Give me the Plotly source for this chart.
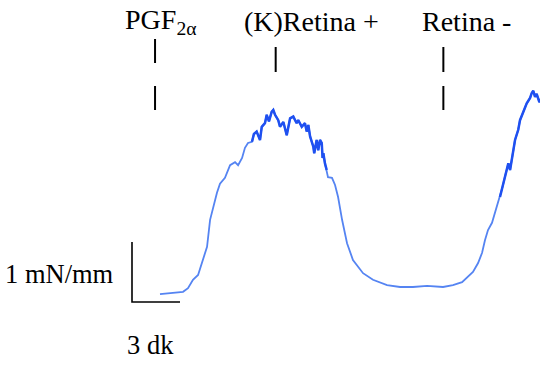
import plotly.graph_objects as go

# Isometric tension recording: time in minutes (dk), tension in mN/mm
time_min = [1.75, 2.38, 3.19, 3.50, 3.81, 4.13, 4.44, 4.69, 4.88, 5.06, 5.31, 5.50,
            5.81, 6.13, 6.44, 6.63, 6.88, 7.06, 7.25, 7.50, 7.62, 7.79, 8.00, 8.11,
            8.31, 8.42, 8.56, 8.73, 8.83, 8.94, 9.14, 9.25, 9.46, 9.67, 9.77, 9.88,
            10.08, 10.29, 10.39, 10.61, 10.81, 10.92, 11.02, 11.13, 11.33, 11.39, 11.54,
            11.64, 11.75, 11.86, 11.91, 11.96, 12.06, 12.17, 12.25, 12.50, 12.69, 12.88,
            13.13, 13.44, 13.81, 14.44, 15.06, 15.94, 16.75, 17.56, 18.44, 19.44, 20.06,
            20.63, 21.00, 21.31, 21.63, 21.88, 22.06, 22.25, 22.50, 22.69, 22.81, 23.00,
            23.13, 23.31, 23.52, 23.63, 23.73, 23.83, 23.94, 24.14, 24.25, 24.46, 24.67,
            24.88, 24.98, 25.08, 25.19, 25.29, 25.46, 25.56]
tension = [0.13, 0.15, 0.17, 0.23, 0.37, 0.45, 0.70, 0.92, 1.37, 1.58, 1.82, 1.97,
           2.07, 2.28, 2.33, 2.28, 2.40, 2.57, 2.65, 2.67, 2.80, 2.84, 2.70, 2.92,
           2.98, 3.12, 3.01, 3.17, 3.20, 3.12, 3.03, 2.92, 3.00, 2.78, 2.95, 3.06,
           3.09, 2.98, 3.03, 2.92, 2.98, 2.84, 2.95, 2.76, 2.59, 2.48, 2.70,
           2.53, 2.70, 2.65, 2.40, 2.48, 2.31, 2.20, 2.08, 2.07, 1.95, 1.75,
           1.37, 0.98, 0.70, 0.48, 0.37, 0.28, 0.25, 0.25, 0.27, 0.25, 0.28,
           0.33, 0.42, 0.50, 0.65, 0.82, 1.03, 1.20, 1.32, 1.48, 1.58, 1.75,
           1.89, 2.09, 2.31, 2.20, 2.37, 2.53, 2.70, 2.87, 3.03, 3.17, 3.31,
           3.40, 3.48, 3.52, 3.42, 3.47, 3.33, 3.38]

# Drug additions
event_labels = ["PGF<sub>2α</sub>", "(K)Retina +", "Retina -"]
event_times = [1.44, 8.98, 19.46]

# Scale bar sizes
scale_time = 3      # dk
scale_tension = 1   # mN/mm

# Pixel geometry of the 540x365 canvas (16 px per minute, 60 px per mN/mm)
PX_T, PX_Y = 16.0, 60.0
X0, Y0 = 132.0, 302.0


def dx(px):
    return (px - X0) / PX_T


def dy(py):
    return (Y0 - py) / PX_Y


fig = go.Figure()

# Main trace
fig.add_trace(go.Scatter(x=time_min, y=tension, mode="lines",
                         line=dict(color="#5584f2", width=1.8), hoverinfo="skip"))


# Noisy plateau / late rise drawn heavier
def segment(t0, t1):
    xs = [t for t in time_min if t0 <= t <= t1]
    ys = [v for t, v in zip(time_min, tension) if t0 <= t <= t1]
    return xs, ys


for a, b in [(7.5, 12.2), (22.9, 25.6)]:
    xs, ys = segment(a, b)
    fig.add_trace(go.Scatter(x=xs, y=ys, mode="lines",
                             line=dict(color="#1f50f0", width=2.5), hoverinfo="skip"))

# Scale bar
fig.add_trace(go.Scatter(x=[0, 0, scale_time], y=[scale_tension, 0, 0], mode="lines",
                         line=dict(color="black", width=1.6), hoverinfo="skip"))

# Event marker ticks
upper = [(dy(39), dy(63)), (dy(47), dy(72)), (dy(47), dy(72))]
lower = [True, False, True]
for t, (ya, yb), has_lower in zip(event_times, upper, lower):
    fig.add_shape(type="line", x0=t, x1=t, y0=ya, y1=yb, xref="x", yref="y",
                  line=dict(color="black", width=2))
    if has_lower:
        fig.add_shape(type="line", x0=t, x1=t, y0=dy(86), y1=dy(110), xref="x", yref="y",
                      line=dict(color="black", width=2))

serif = "Liberation Serif, Times New Roman, serif"
top_font = dict(family=serif, size=28, color="black")
font = dict(family=serif, size=26.5, color="black")
label_px = [160, 311, 466]
for lab, px in zip(event_labels, label_px):
    fig.add_annotation(x=dx(px), y=dy(21), text=lab, showarrow=False, xref="x", yref="y",
                       xanchor="center", yanchor="middle", font=top_font)

fig.add_annotation(x=dx(116), y=dy(274), text="1 mN/mm", showarrow=False, xref="x", yref="y",
                   xanchor="right", yanchor="middle", font=font)
fig.add_annotation(x=dx(150), y=dy(345), text="3 dk", showarrow=False, xref="x", yref="y",
                   xanchor="center", yanchor="middle", font=font)

fig.update_layout(
    width=540, height=365, margin=dict(l=0, r=0, t=0, b=0),
    paper_bgcolor="white", plot_bgcolor="white", showlegend=False,
    xaxis=dict(range=[dx(0), dx(540)], visible=False, fixedrange=True),
    yaxis=dict(range=[dy(365), dy(0)], visible=False, fixedrange=True),
)

fig.write_html("out.html")
